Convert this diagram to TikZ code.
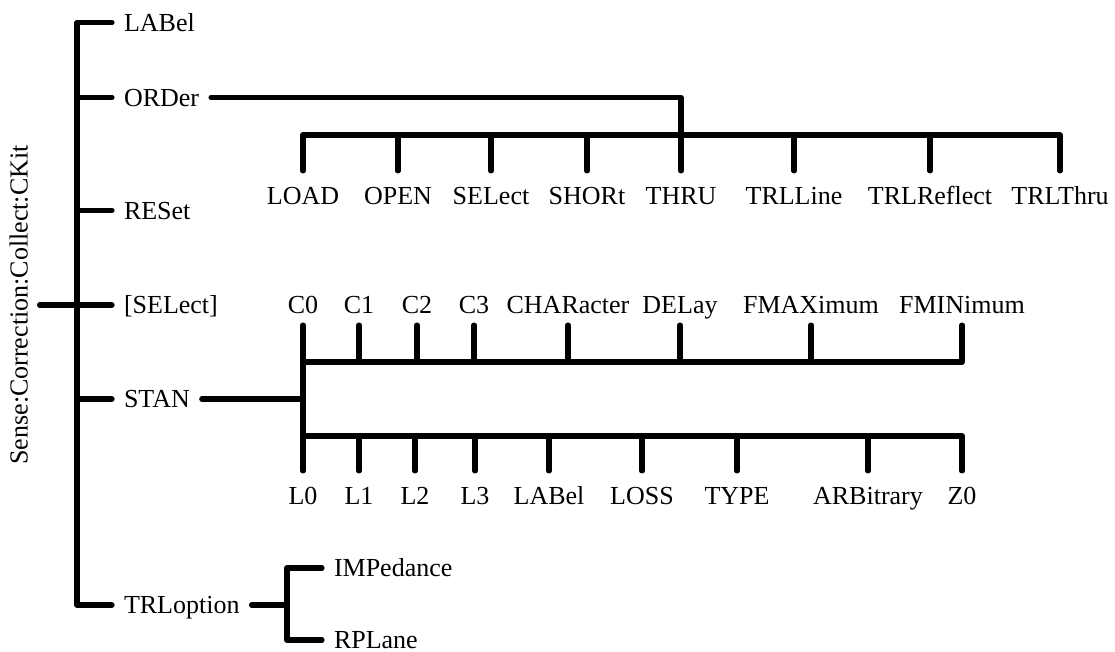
\documentclass[tikz,border=0pt]{standalone}
\usepackage{fontspec}
\setmainfont{Liberation Serif}
\usepackage{tikz}

\begin{document}
\begin{tikzpicture}[x=0.5pt,y=-0.5pt,
    tree/.style={line width=2.6pt,line cap=round,line join=round},
    leaf/.style={inner sep=0pt,outer sep=6pt,text height=8.6pt,text depth=0pt,font=\fontsize{13}{15}\selectfont},
    leafdown/.style={leaf,outer ysep=8pt}]
    \useasboundingbox (0,0) rectangle (1115,652);
    % root and first level
    \node[leaf,rotate=90] (root) at (19,305) {Sense:Correction:Collect:CKit};
    \node[leaf,anchor=west] (lab) at (112,22.5) {LABel};
    \node[leaf,anchor=west] (ord) at (112,97.5) {ORDer};
    \node[leaf,anchor=west] (res) at (112,210.5) {RESet};
    \node[leaf,anchor=west] (sel) at (112,305) {[SELect]};
    \node[leaf,anchor=west] (stan) at (112,399) {STAN};
    \node[leaf,anchor=west] (trl) at (112,605) {TRLoption};
    \coordinate (spine) at (77,0);
    \draw[tree] (lab.west) -- (lab.west -| spine) -- (trl.west -| spine) -- (trl.west);
    \draw[tree] (root.south) -- (sel.west);
    \draw[tree] (ord.west) -- (ord.west -| spine);
    \draw[tree] (res.west) -- (res.west -| spine);
    \draw[tree] (stan.west) -- (stan.west -| spine);
    % ORDer
    \node[leafdown] (load) at (303,195.5) {LOAD};
    \node[leafdown] (open) at (398,195.5) {OPEN};
    \node[leafdown] (osel) at (491,195.5) {SELect};
    \node[leafdown] (short) at (587,195.5) {SHORt};
    \node[leafdown] (thru) at (681,195.5) {THRU};
    \node[leafdown] (trlline) at (794,195.5) {TRLLine};
    \node[leafdown] (trlrefl) at (930,195.5) {TRLReflect};
    \node[leafdown] (trlthru) at (1060,195.5) {TRLThru};
    \coordinate (ordbar) at (0,135);
    \draw[tree] (ord.east) -| (thru.north);
    \draw[tree] (load.north) -- (load.north |- ordbar) -- (trlthru.north |- ordbar) -- (trlthru.north);
    \draw[tree] (open.north) -- (open.north |- ordbar);
    \draw[tree] (osel.north) -- (osel.north |- ordbar);
    \draw[tree] (short.north) -- (short.north |- ordbar);
    \draw[tree] (trlline.north) -- (trlline.north |- ordbar);
    \draw[tree] (trlrefl.north) -- (trlrefl.north |- ordbar);
    % STAN, upper row
    \node[leaf] (c0) at (303,304.5) {C0};
    \node[leaf] (c1) at (359,304.5) {C1};
    \node[leaf] (c2) at (417,304.5) {C2};
    \node[leaf] (c3) at (474,304.5) {C3};
    \node[leaf] (char) at (568,304.5) {CHARacter};
    \node[leaf] (del) at (680,304.5) {DELay};
    \node[leaf] (fmax) at (811,304.5) {FMAXimum};
    \node[leaf] (fmin) at (962,304.5) {FMINimum};
    % STAN, lower row
    \node[leafdown] (l0) at (303,495.5) {L0};
    \node[leafdown] (l1) at (359,495.5) {L1};
    \node[leafdown] (l2) at (415,495.5) {L2};
    \node[leafdown] (l3) at (475,495.5) {L3};
    \node[leafdown] (slab) at (549,495.5) {LABel};
    \node[leafdown] (loss) at (642,495.5) {LOSS};
    \node[leafdown] (type) at (737,495.5) {TYPE};
    \node[leafdown] (arb) at (868,495.5) {ARBitrary};
    \node[leafdown] (z0) at (962,495.5) {Z0};
    \coordinate (upbar) at (0,362);
    \coordinate (lowbar) at (0,436);
    \draw[tree] (c0.south) -- (l0.north);
    \draw[tree] (stan.east) -- (stan.east -| c0.south);
    \draw[tree] (c0.south |- upbar) -- (fmin.south |- upbar) -- (fmin.south);
    \draw[tree] (c1.south) -- (c1.south |- upbar);
    \draw[tree] (c2.south) -- (c2.south |- upbar);
    \draw[tree] (c3.south) -- (c3.south |- upbar);
    \draw[tree] (char.south) -- (char.south |- upbar);
    \draw[tree] (del.south) -- (del.south |- upbar);
    \draw[tree] (fmax.south) -- (fmax.south |- upbar);
    \draw[tree] (l0.north |- lowbar) -- (z0.north |- lowbar) -- (z0.north);
    \draw[tree] (l1.north) -- (l1.north |- lowbar);
    \draw[tree] (l2.north) -- (l2.north |- lowbar);
    \draw[tree] (l3.north) -- (l3.north |- lowbar);
    \draw[tree] (slab.north) -- (slab.north |- lowbar);
    \draw[tree] (loss.north) -- (loss.north |- lowbar);
    \draw[tree] (type.north) -- (type.north |- lowbar);
    \draw[tree] (arb.north) -- (arb.north |- lowbar);
    % TRLoption
    \node[leaf,anchor=west] (imp) at (322,568) {IMPedance};
    \node[leaf,anchor=west] (rpl) at (322,640) {RPLane};
    \coordinate (trlsp) at (287,0);
    \draw[tree] (imp.west) -- (imp.west -| trlsp) -- (rpl.west -| trlsp) -- (rpl.west);
    \draw[tree] (trl.east) -- (trl.east -| trlsp);
\end{tikzpicture}
\end{document}
